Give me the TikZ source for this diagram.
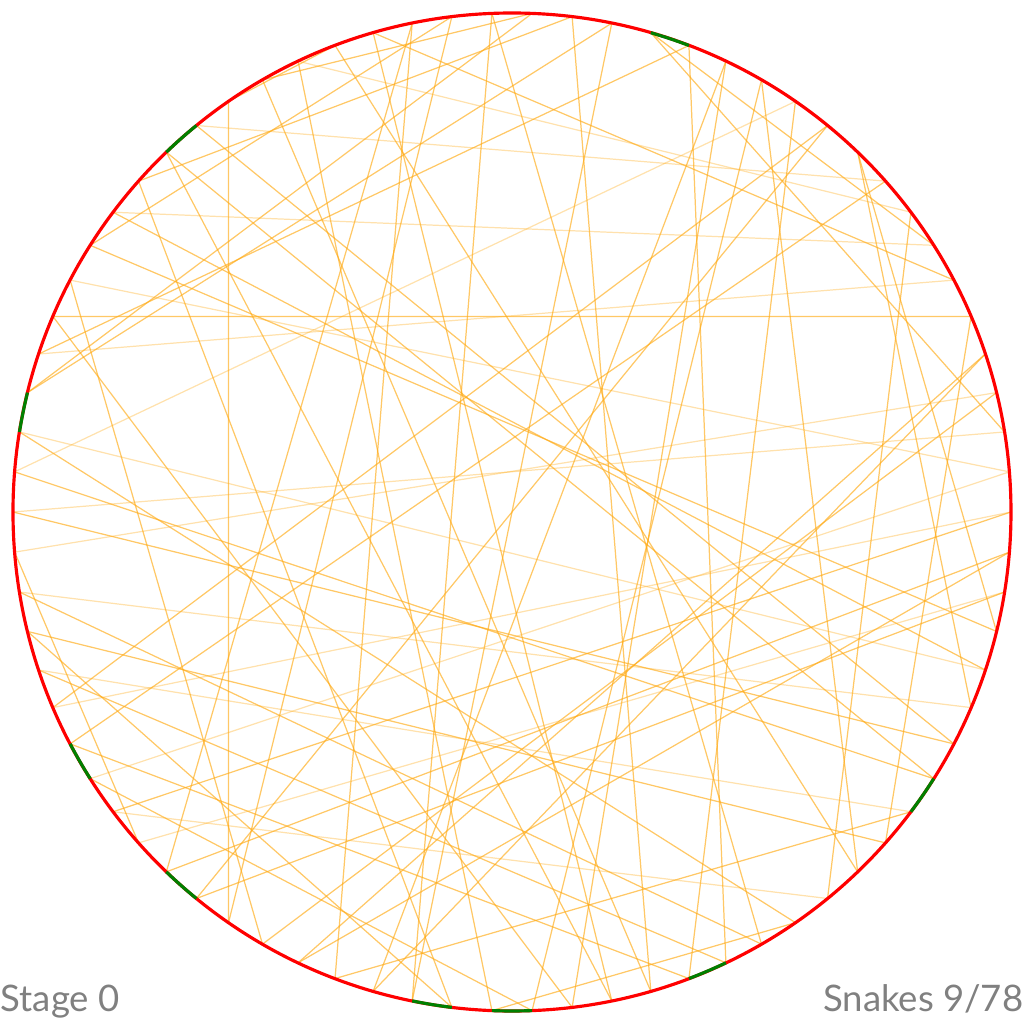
\documentclass[tikz,border=0pt]{standalone}
\usepackage{fontspec}
\setmainfont{Lato}
\begin{document}
\begin{tikzpicture}[
    chord/.style={draw={rgb,255:red,255;green,170;blue,20}, line width=0.35pt, opacity=0.65},
    faintchord/.style={chord, opacity=0.35},
    rim/.style={draw=red, line width=0.9pt},
    snake/.style={draw={rgb,255:red,0;green,128;blue,0}, line width=0.9pt},
    caption/.style={inner sep=0pt, text={rgb,255:red,128;green,128;blue,128}, font=\fontsize{10.4}{12}\selectfont}]
  \useasboundingbox (-5.12,-5.12) rectangle (5.12,5.12);

  % Points on the rim
  \foreach \i in {0,...,77}
    \coordinate (p\i) at ({360/78*\i}:4.99);

  % Chords
  \foreach \a/\b in {34/5, 27/51, 15/64, 15/35, 9/45, 7/16, 10/73, 10/75, 11/44, 11/50,
      12/63, 13/59, 13/68, 14/55, 4/53, 24/68, 20/65, 21/51, 21/32, 22/49,
      23/61, 25/58, 27/24, 30/18, 32/75, 33/52, 52/3, 54/22, 19/36, 29/61,
      8/67, 6/23, 4/55, 20/56, 14/60, 26/62, 26/19, 5/69, 16/2, 17/56,
      17/36, 18/62, 34/60, 0/47, 77/49, 29/71, 28/72, 30/57, 31/74, 37/66,
      38/71, 39/72, 41/65, 42/57, 42/69, 43/64, 45/63, 46/59, 50/76, 53/77,
      54/70, 58/66, 40/48}
    \draw[chord] (p\a) -- (p\b);
  \foreach \a/\b in {28/9, 7/31, 6/35, 12/38, 8/25, 40/3, 41/73, 43/70, 47/67, 1/46,
      76/48, 1/33, 0/44, 39/2, 37/74}
    \draw[faintchord] (p\a) -- (p\b);

  % Rim and snakes
  \draw[rim] (0,0) circle (4.99);
  \foreach \i in {15,28,36,45,49,56,58,63,70}
    \draw[snake] (p\i) arc[start angle={360/78*\i}, delta angle={360/78}, radius=4.99];

  % Labels
  \node[caption, anchor=base west] (stage) at (-5.12,-4.99) {Stage 0};
  \node[caption, anchor=base east] (count) at (5.12,-4.99) {Snakes 9/78};
\end{tikzpicture}
\end{document}
